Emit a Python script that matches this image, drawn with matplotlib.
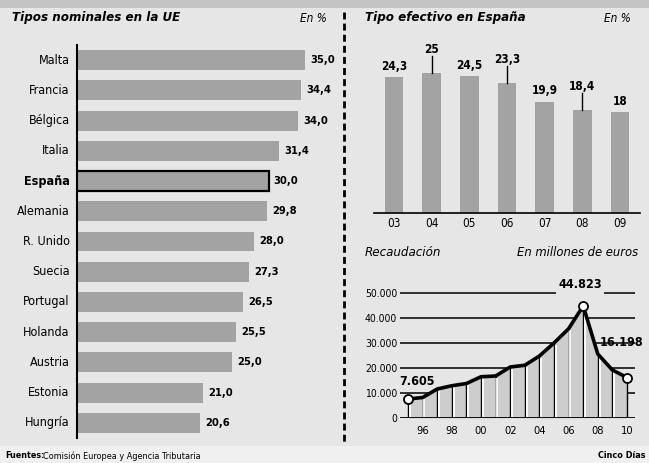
import matplotlib
matplotlib.use("Agg")
import matplotlib.pyplot as plt
from matplotlib.lines import Line2D
from matplotlib.patches import Rectangle

plt.rcParams['font.family'] = ['DejaVu Sans']
plt.rcParams['font.stretch'] = 'condensed'

# Tipos nominales en la UE (%)
countries = ["Malta", "Francia", "Bélgica", "Italia", "España", "Alemania", "R. Unido",
             "Suecia", "Portugal", "Holanda", "Austria", "Estonia", "Hungría"]
nominal = [35.0, 34.4, 34.0, 31.4, 30.0, 29.8, 28.0, 27.3, 26.5, 25.5, 25.0, 21.0, 20.6]

# Tipo efectivo en España (%)
eff_years = ["03", "04", "05", "06", "07", "08", "09"]
eff_rate = [24.3, 25, 24.5, 23.3, 19.9, 18.4, 18]
eff_labels = ["24,3", "25", "24,5", "23,3", "19,9", "18,4", "18"]
eff_leader = [False, True, False, True, False, True, False]

# Recaudación (millones de euros)
rec_years = [1995, 1996, 1997, 1998, 1999, 2000, 2001, 2002,
             2003, 2004, 2005, 2006, 2007, 2008, 2009, 2010]
rec_values = [7605, 8200, 11600, 12900, 13800, 16500, 16800, 20400,
              21100, 24800, 30000, 35700, 44823, 25600, 19200, 16198]
rec_ticks = [1996, 1998, 2000, 2002, 2004, 2006, 2008, 2010]
rec_yticks = [0, 10000, 20000, 30000, 40000, 50000]

BG = "#e6e6e6"
BAR = "#a3a3a3"
AREA = "#cdcdcd"

W, H = 649, 463
fig = plt.figure(figsize=(W / 100, H / 100), dpi=100)
fig.patch.set_facecolor(BG)


def px(x0, y0, x1, y1):
    # pixel box (top-left / bottom-right) -> figure fraction rect
    return [x0 / W, 1 - y1 / H, (x1 - x0) / W, (y1 - y0) / H]


# background bands
fig.patches.append(Rectangle((0, 1 - 8 / H), 1, 8 / H, transform=fig.transFigure,
                             facecolor="#c4c4c4", edgecolor="none", zorder=0))
fig.patches.append(Rectangle((0, 0), 1, 17 / H, transform=fig.transFigure,
                             facecolor="#f0f0f0", edgecolor="none", zorder=0))

# dashed divider
fig.lines.append(Line2D([344 / W, 344 / W], [1 - 12 / H, 1 - 445 / H], transform=fig.transFigure,
                        color="black", lw=2, linestyle=(0, (2.5, 1.5))))

# ---- left: nominal rates ----
ax1 = fig.add_axes(px(77, 45, 335, 438))
ax1.set_facecolor("none")
for i, (c, v) in enumerate(zip(countries, nominal)):
    spain = c == "España"
    ax1.barh(i, v, height=0.66, color=BAR,
             edgecolor="black" if spain else "none", linewidth=1.6 if spain else 0)
    ax1.text(v + 0.7, i, f"{v:.1f}".replace(".", ","), va="center", ha="left",
             fontsize=8, fontweight="bold")
    ax1.text(3.7 - 1.0, i, c, va="center", ha="right", fontsize=9,
             fontweight="bold" if spain else "normal")
ax1.set_xlim(3.7, 39.1)
ax1.set_ylim(len(countries) - 0.5, -0.5)
for s in ["top", "right", "bottom"]:
    ax1.spines[s].set_visible(False)
ax1.spines["left"].set_linewidth(1.5)
ax1.set_xticks([])
ax1.set_yticks([])

fig.text(12 / W, 1 - 18 / H, "Tipos nominales en la UE", fontsize=9.5, style="italic",
         fontweight="bold", va="center", ha="left")
fig.text(327 / W, 1 - 18 / H, "En %", fontsize=8.5, style="italic", va="center", ha="right")

# ---- top right: effective rate ----
ax2 = fig.add_axes(px(374, 40, 640, 213))
ax2.set_facecolor("none")
x = list(range(len(eff_years)))
ax2.bar(x, eff_rate, width=0.5, color=BAR)
for i, (v, lab, lead) in enumerate(zip(eff_rate, eff_labels, eff_leader)):
    if lead:
        ax2.plot([i, i], [v, v + 3.0], color="black", lw=1)
        ax2.text(i, v + 4.2, lab, ha="center", va="center", fontsize=8.5, fontweight="bold")
    else:
        ax2.text(i, v + 1.9, lab, ha="center", va="center", fontsize=8.5, fontweight="bold")
ax2.set_xlim(-0.53, 6.53)
ax2.set_ylim(0, 30.9)
for s in ["top", "right", "left"]:
    ax2.spines[s].set_visible(False)
ax2.spines["bottom"].set_linewidth(1.2)
ax2.set_yticks([])
ax2.set_xticks(x)
ax2.set_xticklabels(eff_years, fontsize=8.5)
ax2.tick_params(axis="x", length=0, pad=3)

fig.text(365 / W, 1 - 18 / H, "Tipo efectivo en España", fontsize=9.5, style="italic",
         fontweight="bold", va="center", ha="left")
fig.text(631 / W, 1 - 18 / H, "En %", fontsize=8.5, style="italic", va="center", ha="right")

# ---- bottom right: revenue ----
ax3 = fig.add_axes(px(400, 285, 635, 418))
ax3.set_facecolor("none")
for t in rec_yticks[1:]:
    ax3.axhline(t, color="black", lw=1.1, zorder=1)
ax3.fill_between(rec_years, rec_values, 0, color=AREA, lw=0, zorder=2)
ax3.vlines(rec_years, 0, rec_values, color="black", lw=1.0, zorder=3)
ax3.vlines([yr + 0.12 for yr in rec_years[:-1]], 0,
           [v - 600 for v in rec_values[:-1]], color="white", lw=1.3, zorder=3)
ax3.plot(rec_years, rec_values, color="black", lw=2.6, zorder=4, solid_joinstyle="round")
marks = [0, rec_values.index(max(rec_values)), len(rec_values) - 1]
ax3.plot([rec_years[i] for i in marks], [rec_values[i] for i in marks], "o", ms=6.5,
         mfc="white", mec="black", mew=1.3, zorder=5)
ax3.text(rec_years[0] + 0.6, rec_values[0] + 6800, "7.605", ha="center", va="center",
         fontsize=9, fontweight="bold", zorder=6)
ax3.text(2006.8, 53200, "44.823", ha="center", va="center", fontsize=9, fontweight="bold",
         zorder=6, clip_on=False, bbox=dict(facecolor=BG, edgecolor="none", pad=1.5))
ax3.text(2009.6, 30000, "16.198", ha="center", va="center", fontsize=9, fontweight="bold",
         zorder=6, clip_on=False)
ax3.axhline(0, color="black", lw=1.3, zorder=4)
ax3.set_xlim(1994.45, 2010.55)
ax3.set_ylim(0, 53200)
for s in ["top", "right", "left", "bottom"]:
    ax3.spines[s].set_visible(False)
ax3.set_yticks(rec_yticks)
ax3.set_yticklabels([f"{t:,}".replace(",", ".") for t in rec_yticks], fontsize=7.5)
ax3.tick_params(axis="y", length=0, pad=2)
ax3.set_xticks(rec_ticks)
ax3.set_xticklabels([str(t)[2:] for t in rec_ticks], fontsize=8)
ax3.tick_params(axis="x", length=0, pad=6)

fig.text(365 / W, 1 - 253 / H, "Recaudación", fontsize=9.5, style="italic",
         va="center", ha="left")
fig.text(638 / W, 1 - 253 / H, "En millones de euros", fontsize=9.3, style="italic",
         va="center", ha="right")

# footer
fig.text(5 / W, 1 - 456 / H, "Fuentes:", fontsize=6.5, fontweight="bold", va="center", ha="left")
fig.text(43 / W, 1 - 456 / H, "Comisión Europea y Agencia Tributaria", fontsize=6.5,
         va="center", ha="left")
fig.text(646 / W, 1 - 456 / H, "Cinco Días", fontsize=6.5, fontweight="bold",
         va="center", ha="right")

fig.savefig("out.png", dpi=100, facecolor=fig.get_facecolor())
